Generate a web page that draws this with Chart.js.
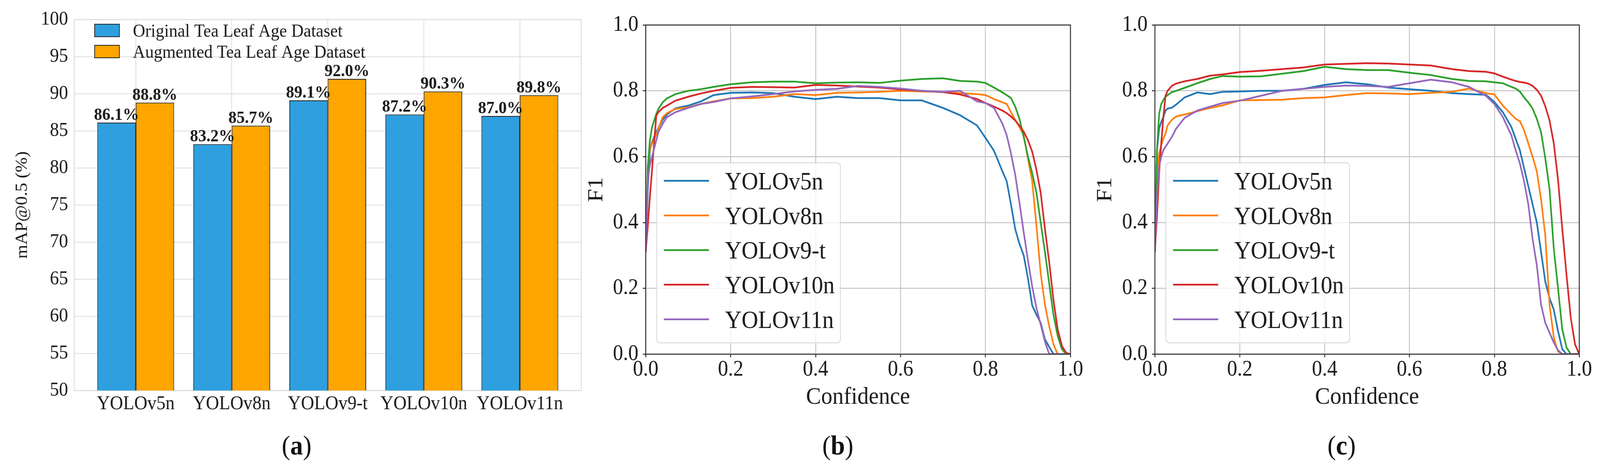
<!DOCTYPE html>
<html>
<head>
<meta charset="utf-8">
<script src="https://cdn.jsdelivr.net/npm/chart.js@4.4.1/dist/chart.umd.min.js"></script>
<style>
  html, body { margin: 0; padding: 0; background: #fff; overflow: hidden; }
  #page { position: absolute; left: 0; top: 0; width: 4396px; height: 1219px; transform-origin: 0 0; font-family: 'Liberation Serif', serif; }
  canvas { position: absolute; top: 0; }
  .tag { position: absolute; top: 1101px; width: 300px; text-align: center; font-size: 70px; line-height: 80px; color: #111; }
</style>
</head>
<body>
<div id="page">
<canvas id="chart-a" width="1610" height="1080" style="left:0"></canvas>
<canvas id="chart-b" width="1380" height="1080" style="left:1600px"></canvas>
<canvas id="chart-c" width="1396" height="1080" style="left:3000px"></canvas>
<div class="tag" style="left:665px">(<b>a</b>)</div>
<div class="tag" style="left:2152px">(<b>b</b>)</div>
<div class="tag" style="left:3536px">(<b>c</b>)</div>
</div>
<script>
// ---- data ----
const models = ['YOLOv5n', 'YOLOv8n', 'YOLOv9-t', 'YOLOv10n', 'YOLOv11n'];
const bar_series = ['Original Tea Leaf Age Dataset', 'Augmented Tea Leaf Age Dataset'];
const map_original = [86.1, 83.2, 89.1, 87.2, 87.0];
const map_augmented = [88.8, 85.7, 92.0, 90.3, 89.8];

// confidence thresholds the F1 curves were read at
const confidence = [0, 0.005, 0.01, 0.015, 0.02, 0.025, 0.03, 0.04, 0.05, 0.07, 0.1, 0.13, 0.16,
  0.2, 0.25, 0.3, 0.35, 0.4, 0.45, 0.5, 0.55, 0.6, 0.65, 0.7, 0.74, 0.78, 0.8, 0.82, 0.84,
  0.85, 0.86, 0.87, 0.88, 0.89, 0.9, 0.91, 0.92, 0.93, 0.94, 0.95, 0.96, 0.97, 0.98, 0.99, 1.0];

// (b) original dataset
const f1b_v5n = [0.31, 0.50, 0.62, 0.645, 0.66, 0.674, 0.688, 0.712, 0.728, 0.747, 0.755, 0.768, 0.787,
  0.794, 0.795, 0.793, 0.782, 0.775, 0.782, 0.778, 0.778, 0.771, 0.771, 0.748, 0.726, 0.695, 0.657, 0.618, 0.555,
  0.525, 0.455, 0.38, 0.335, 0.30, 0.23, 0.148, 0.12, 0.095, 0.045, 0.022, 0, 0, 0, 0, 0];
const f1b_v8n = [0.31, 0.57, 0.625, 0.64, 0.655, 0.667, 0.685, 0.72, 0.732, 0.745, 0.75, 0.76, 0.768,
  0.777, 0.778, 0.782, 0.79, 0.787, 0.794, 0.795, 0.797, 0.80, 0.798, 0.797, 0.793, 0.79, 0.787, 0.775, 0.765,
  0.76, 0.735, 0.712, 0.69, 0.665, 0.593, 0.525, 0.39, 0.245, 0.15, 0.085, 0.03, 0, 0, 0, 0];
const f1b_v9t = [0.31, 0.57, 0.65, 0.69, 0.71, 0.73, 0.745, 0.765, 0.777, 0.79, 0.80, 0.805, 0.812,
  0.82, 0.826, 0.828, 0.828, 0.823, 0.825, 0.826, 0.824, 0.831, 0.836, 0.838, 0.83, 0.828, 0.824, 0.81, 0.795,
  0.787, 0.778, 0.752, 0.715, 0.66, 0.60, 0.55, 0.49, 0.40, 0.31, 0.215, 0.12, 0.055, 0.015, 0, 0];
const f1b_v10n = [0.31, 0.39, 0.48, 0.56, 0.645, 0.725, 0.735, 0.748, 0.755, 0.77, 0.782, 0.792, 0.80,
  0.809, 0.812, 0.811, 0.81, 0.818, 0.816, 0.813, 0.81, 0.804, 0.80, 0.796, 0.789, 0.775, 0.763, 0.752, 0.74,
  0.732, 0.722, 0.71, 0.694, 0.676, 0.65, 0.615, 0.56, 0.49, 0.38, 0.28, 0.165, 0.075, 0.025, 0.004, 0];
const f1b_v11n = [0.31, 0.53, 0.575, 0.60, 0.625, 0.65, 0.675, 0.70, 0.72, 0.735, 0.748, 0.76, 0.766,
  0.777, 0.783, 0.79, 0.798, 0.803, 0.806, 0.815, 0.812, 0.807, 0.80, 0.797, 0.80, 0.768, 0.763, 0.748, 0.70,
  0.665, 0.61, 0.545, 0.46, 0.37, 0.285, 0.205, 0.14, 0.09, 0.038, 0, 0, 0, 0, 0, 0];

// (c) augmented dataset
const f1c_v5n = [0.31, 0.62, 0.685, 0.705, 0.72, 0.74, 0.746, 0.749, 0.758, 0.78, 0.795, 0.79, 0.797,
  0.798, 0.80, 0.80, 0.806, 0.818, 0.826, 0.82, 0.81, 0.805, 0.80, 0.793, 0.79, 0.788, 0.766, 0.735, 0.69,
  0.655, 0.62, 0.565, 0.51, 0.455, 0.40, 0.31, 0.22, 0.17, 0.135, 0.07, 0.015, 0, 0, 0, 0];
const f1c_v8n = [0.31, 0.54, 0.61, 0.635, 0.655, 0.67, 0.695, 0.712, 0.722, 0.728, 0.738, 0.748, 0.756,
  0.771, 0.772, 0.773, 0.778, 0.78, 0.787, 0.793, 0.792, 0.79, 0.794, 0.797, 0.807, 0.793, 0.789, 0.755, 0.728,
  0.715, 0.708, 0.68, 0.64, 0.60, 0.555, 0.47, 0.36, 0.15, 0.05, 0.008, 0, 0, 0, 0, 0];
const f1c_v9t = [0.31, 0.62, 0.73, 0.76, 0.772, 0.782, 0.787, 0.796, 0.80, 0.809, 0.823, 0.836, 0.845,
  0.843, 0.844, 0.852, 0.86, 0.873, 0.866, 0.863, 0.863, 0.855, 0.848, 0.836, 0.83, 0.829, 0.826, 0.823, 0.812,
  0.807, 0.798, 0.78, 0.765, 0.746, 0.715, 0.674, 0.595, 0.50, 0.32, 0.20, 0.075, 0.02, 0, 0, 0];
const f1c_v10n = [0.31, 0.42, 0.55, 0.64, 0.72, 0.785, 0.80, 0.815, 0.822, 0.829, 0.836, 0.846, 0.85,
  0.857, 0.861, 0.866, 0.871, 0.88, 0.882, 0.884, 0.883, 0.88, 0.877, 0.866, 0.86, 0.858, 0.853, 0.843, 0.834,
  0.83, 0.827, 0.825, 0.822, 0.815, 0.803, 0.785, 0.753, 0.71, 0.64, 0.53, 0.38, 0.24, 0.11, 0.03, 0];
const f1c_v11n = [0.31, 0.48, 0.57, 0.60, 0.62, 0.63, 0.64, 0.66, 0.685, 0.718, 0.74, 0.752, 0.763,
  0.77, 0.785, 0.80, 0.806, 0.812, 0.816, 0.815, 0.812, 0.823, 0.834, 0.826, 0.812, 0.785, 0.76, 0.72, 0.665,
  0.62, 0.58, 0.525, 0.455, 0.35, 0.27, 0.15, 0.095, 0.065, 0.035, 0.012, 0, 0, 0, 0, 0];

const line_colors = ['#1f77b4', '#ff7f0e', '#2ca02c', '#d62728', '#9467bd'];

// ---- fit the 4396x1219 layout into the viewport we actually get ----
const page = document.getElementById('page');
const sx = window.innerWidth / 4396, sy = window.innerHeight / 1219;
if(Math.abs(sx - 1) > 0.002 || Math.abs(sy - 1) > 0.002){
  page.style.transform = `scale(${sx}, ${sy})`;
}

// ---- helpers ----
const serif = "'Liberation Serif', 'Times New Roman', serif";
const ink = '#1a1a1a';

function points(ys){
  return confidence.map((c, i) => ({x: c, y: ys[i]}));
}

// plot frame (spines)
const framePlugin = {
  id: 'frame',
  beforeDatasetsDraw(chart, args, o){ if(o.under) strokeFrame(chart, o); },
  afterDatasetsDraw(chart, args, o){ if(!o.under) strokeFrame(chart, o); }
};
function strokeFrame(chart, o){
  const {ctx, chartArea: a} = chart;
  ctx.save();
  ctx.strokeStyle = o.color;
  ctx.lineWidth = o.width;
  ctx.strokeRect(a.left, a.top, a.right - a.left, a.bottom - a.top);
  ctx.restore();
}

// percent labels on top of the bars
const valueLabels = {
  id: 'valueLabels',
  afterDatasetsDraw(chart, args, o){
    const ctx = chart.ctx;
    ctx.save();
    ctx.font = `bold ${o.size}px ${serif}`;
    ctx.fillStyle = ink;
    ctx.textAlign = 'center';
    ctx.textBaseline = 'alphabetic';
    chart.data.datasets.forEach((ds, di) => {
      chart.getDatasetMeta(di).data.forEach((bar, i) => {
        ctx.fillText(ds.data[i].y.toFixed(1) + '%', bar.x, bar.y - o.gap);
      });
    });
    ctx.restore();
  }
};

// legend with filled swatches, inside the plot (panel a)
const boxLegend = {
  id: 'boxLegend',
  afterDatasetsDraw(chart, args, o){
    const {ctx, chartArea: a} = chart;
    ctx.save();
    ctx.font = `${o.size}px ${serif}`;
    ctx.textBaseline = 'alphabetic';
    chart.data.datasets.forEach((ds, i) => {
      const top = a.top + o.top + i * o.step;
      ctx.fillStyle = ds.backgroundColor;
      ctx.fillRect(a.left + o.left, top, o.boxW, o.boxH);
      ctx.lineWidth = ds.borderWidth;
      ctx.strokeStyle = ds.borderColor;
      ctx.strokeRect(a.left + o.left, top, o.boxW, o.boxH);
      ctx.fillStyle = ink;
      ctx.fillText(ds.label, a.left + o.textLeft, top + o.boxH / 2 + o.baseline);
    });
    ctx.restore();
  }
};

// matplotlib style line legend with rounded frame (panels b, c)
const lineLegend = {
  id: 'lineLegend',
  afterDatasetsDraw(chart, args, o){
    const {ctx, chartArea: a} = chart;
    ctx.save();
    ctx.beginPath();
    ctx.roundRect(a.left + o.x0, a.top + o.y0, o.x1 - o.x0, o.y1 - o.y0, o.radius);
    ctx.fillStyle = 'rgba(255,255,255,0.8)';
    ctx.fill();
    ctx.lineWidth = 2;
    ctx.strokeStyle = '#d4d4d4';
    ctx.stroke();
    ctx.font = `${o.size}px ${serif}`;
    ctx.textBaseline = 'alphabetic';
    chart.data.datasets.forEach((ds, i) => {
      const y = a.top + o.row0 + i * o.step;
      ctx.beginPath();
      ctx.moveTo(a.left + o.lineL, y);
      ctx.lineTo(a.left + o.lineR, y);
      ctx.strokeStyle = ds.borderColor;
      ctx.lineWidth = ds.borderWidth;
      ctx.stroke();
      ctx.fillStyle = ink;
      ctx.fillText(ds.label, a.left + o.textL, y + o.baseline);
    });
    ctx.restore();
  }
};

// ---- (a) mAP bars ----
new Chart(document.getElementById('chart-a'), {
  type: 'bar',
  data: {
    datasets: [{
      label: bar_series[0],
      data: map_original.map((v, i) => ({x: i, y: v})),
      backgroundColor: '#2e9fdf',
      borderColor: '#222',
      borderWidth: 2,
      borderSkipped: false,
      categoryPercentage: 0.8,
      barPercentage: 1.0
    },{
      label: bar_series[1],
      data: map_augmented.map((v, i) => ({x: i, y: v})),
      backgroundColor: '#ffa500',
      borderColor: '#222',
      borderWidth: 2,
      borderSkipped: false,
      categoryPercentage: 0.8,
      barPercentage: 1.0
    }]
  },
  options: {
    responsive: false,
    animation: false,
    events: [],
    layout: { padding: { top: 50, right: 13, left: 0, bottom: 0 } },
    plugins: {
      legend: { display: false },
      tooltip: { enabled: false },
      frame: { color: '#dedede', width: 2.5, under: true },
      valueLabels: { size: 45, gap: 7 },
      boxLegend: { size: 47, left: 56, top: 12, boxW: 68, boxH: 32, step: 54, textLeft: 161, baseline: 16 }
    },
    scales: {
      x: {
        type: 'linear',
        min: -0.64,
        max: 4.64,
        offset: false,
        afterFit: function(scale){ scale.height = 80; },
        grid: { offset: false, color: '#e2e2e2', lineWidth: 2.5, drawTicks: false },
        border: { display: false },
        ticks: {
          stepSize: 1,
          includeBounds: false,
          autoSkip: false,
          maxRotation: 0,
          padding: 10,
          color: ink,
          font: { family: serif, size: 50, lineHeight: 1 },
          callback: v => models[v] || ''
        }
      },
      y: {
        min: 50,
        max: 100,
        afterFit: function(scale){ scale.width = 204; },
        grid: { color: '#e2e2e2', lineWidth: 2.5, drawTicks: false },
        border: { display: false },
        ticks: { stepSize: 5, padding: 17, color: ink, font: { family: serif, size: 50, lineHeight: 1 } },
        title: {
          display: true,
          text: 'mAP@0.5 (%)',
          color: ink,
          font: { family: serif, size: 46, lineHeight: 1 },
          padding: { top: 39, bottom: 0 }
        }
      }
    }
  },
  plugins: [framePlugin, valueLabels, boxLegend]
});

// ---- (b), (c) F1-confidence curves ----
function make_f1_chart(id, series, titleOffset){
  const datasets = series.map((ys, i) => ({
    label: models[i],
    data: points(ys),
    borderColor: line_colors[i],
    borderWidth: 4.5,
    pointRadius: 0,
    tension: 0,
    fill: false,
    order: series.length - i
  }));
  return new Chart(document.getElementById(id), {
    type: 'line',
    data: { datasets: datasets },
    options: {
      responsive: false,
      animation: false,
      events: [],
      layout: { padding: { top: 64, right: id == 'chart-b' ? 39 : 57, left: 0, bottom: 0 } },
      plugins: {
        legend: { display: false },
        tooltip: { enabled: false },
        frame: { color: '#2a2a2a', width: 2.5, under: false },
        lineLegend: { size: 63, x0: 30, x1: 535, y0: 353, y1: 814, radius: 10,
                      row0: 399, step: 88.7, lineL: 50, lineR: 174, textL: 218, baseline: 22 }
      },
      scales: {
        x: {
          type: 'linear',
          min: 0,
          max: 1,
          afterFit: function(scale){ scale.height = 173; },
          grid: { color: '#c4c4c4', lineWidth: 2.5, tickLength: 8, tickColor: '#2a2a2a', tickWidth: 2.5 },
          border: { display: false },
          ticks: { stepSize: 0.2, padding: 4, maxRotation: 0, color: ink,
                   font: { family: serif, size: 56, lineHeight: 1 }, callback: v => v.toFixed(1) },
          title: { display: true, text: 'Confidence', color: ink,
                   font: { family: serif, size: 62, lineHeight: 1 }, padding: { top: 0, bottom: 31 } }
        },
        y: {
          min: 0,
          max: 1,
          afterFit: function(scale){ scale.width = id == 'chart-b' ? 174 : 173; },
          grid: { color: '#c4c4c4', lineWidth: 2.5, tickLength: 8, tickColor: '#2a2a2a', tickWidth: 2.5 },
          border: { display: false },
          ticks: { stepSize: 0.2, padding: 12, color: ink,
                   font: { family: serif, size: 56, lineHeight: 1 }, callback: v => v.toFixed(1) },
          title: { display: true, text: 'F1', color: ink,
                   font: { family: serif, size: 60, lineHeight: 1 }, padding: { top: titleOffset, bottom: 0 } }
        }
      }
    },
    plugins: [framePlugin, lineLegend]
  });
}

make_f1_chart('chart-b', [f1b_v5n, f1b_v8n, f1b_v9t, f1b_v10n, f1b_v11n], 9);
make_f1_chart('chart-c', [f1c_v5n, f1c_v8n, f1c_v9t, f1c_v10n, f1c_v11n], 7);
</script>
</body>
</html>
